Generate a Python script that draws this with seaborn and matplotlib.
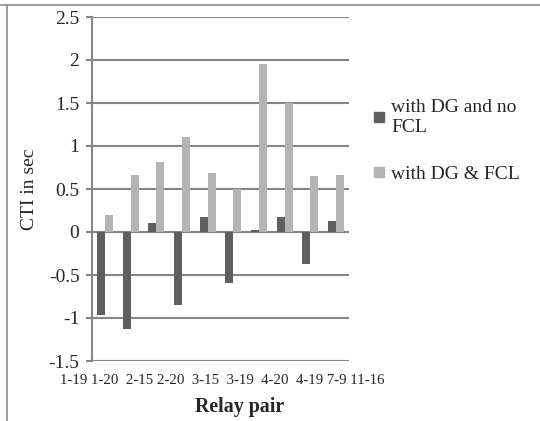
import matplotlib
matplotlib.use("Agg")
import matplotlib.pyplot as plt
import seaborn as sns
import pandas as pd
from matplotlib.lines import Line2D

categories = ["1-19", "1-20", "2-15", "2-20", "3-15", "3-19", "4-20", "4-19", "7-9", "11-16"]
no_fcl = [-0.97, -1.13, 0.10, -0.85, 0.18, -0.59, 0.02, 0.17, -0.37, 0.13]
with_fcl = [0.20, 0.66, 0.81, 1.10, 0.69, 0.50, 1.95, 1.50, 0.65, 0.66]
series_names = ["with DG and no\nFCL", "with DG & FCL"]
yticks = [-1.5, -1, -0.5, 0, 0.5, 1, 1.5, 2, 2.5]
ytick_labels = ["-1.5", "-1", "-0.5", "0", "0.5", "1", "1.5", "2", "2.5"]

df = pd.DataFrame({
    "pair": categories * 2,
    "value": no_fcl + with_fcl,
    "series": [series_names[0]] * len(categories) + [series_names[1]] * len(categories),
})

sns.set_style("white")
plt.rcParams["font.family"] = ["Liberation Serif", "DejaVu Serif"]

fig = plt.figure(figsize=(5.4, 4.21), dpi=100)
ax = fig.add_axes([92 / 540, 1 - 361 / 421, 257 / 540, 344 / 421])

grid_c = "#868686"
for y in yticks:
    ax.axhline(y, color=grid_c, lw=1.5, zorder=0)

palette = {series_names[0]: "#5f5f5f", series_names[1]: "#b4b4b4"}
sns.barplot(data=df, x="pair", y="value", hue="series", palette=palette,
            width=0.62, gap=0, ax=ax, legend=False, saturation=1, zorder=2,
            linewidth=0, edgecolor="none")

ax.set_ylim(-1.5, 2.5)
ax.set_xlim(-0.5, len(categories) - 0.5)
ax.set_yticks(yticks)
ax.set_yticklabels(ytick_labels, fontsize=14)
ax.set_xticks([])
ax.set_xlabel("")
ax.set_ylabel("CTI in sec", fontsize=14, labelpad=8)
ax.tick_params(axis="y", length=4, width=1.5, color=grid_c, pad=5, left=True)
for s in ["top", "right", "bottom"]:
    ax.spines[s].set_visible(False)
ax.spines["left"].set_color(grid_c)
ax.spines["left"].set_linewidth(1.5)

fig.text(60 / 540, 1 - 381 / 421, "1-19 1-20  2-15 2-20  3-15  3-19  4-20  4-19 7-9 11-16",
         fontsize=10.7, ha="left", va="center")
fig.text(240 / 540, 1 - 407 / 421, "Relay pair", fontsize=14.4, fontweight="bold",
         ha="center", va="center")

handles = [Line2D([0], [0], marker="s", linestyle="", markersize=7,
                  markerfacecolor=palette[n], markeredgecolor=palette[n]) for n in series_names]
fig.legend(handles, series_names, loc="center left", bbox_to_anchor=(356 / 540, 1 - 141 / 421),
           frameon=False, fontsize=14, handlelength=0.6, handletextpad=0.3,
           labelspacing=1.5)

fig.add_artist(Line2D([0, 1], [1 - 5 / 421, 1 - 5 / 421], color="#8a8a8a", lw=1.2,
                      transform=fig.transFigure))
fig.add_artist(Line2D([7 / 540, 7 / 540], [0, 1 - 5 / 421], color="#8a8a8a", lw=1.2,
                      transform=fig.transFigure))

fig.savefig("out.png", dpi=100)
